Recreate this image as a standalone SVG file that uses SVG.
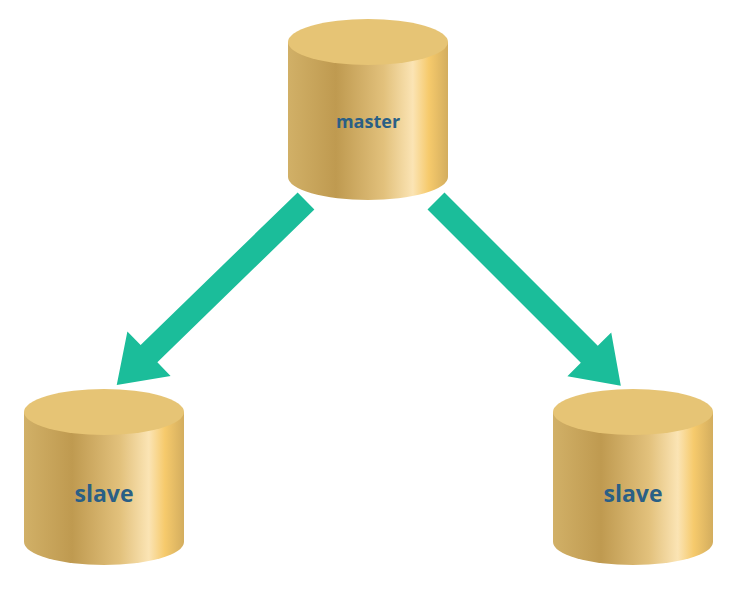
<svg xmlns="http://www.w3.org/2000/svg" width="744" height="596" viewBox="0 0 744 596">
<defs>
<linearGradient id="body" x1="0" y1="0" x2="1" y2="0">
<stop offset="0" stop-color="#d1b067"/>
<stop offset="0.3" stop-color="#bf9a50"/>
<stop offset="0.6" stop-color="#e2c17c"/>
<stop offset="0.78" stop-color="#fbe4b4"/>
<stop offset="0.88" stop-color="#f6ca6c"/>
<stop offset="1" stop-color="#d3ad5e"/>
</linearGradient>
<polygon id="arr" points="0,-12 219,-12 219,-31 264,0 219,31 219,12 0,12" fill="#1bbd9a"/>
</defs>
<style>.t{font-family:"Open Sans","Liberation Sans",sans-serif;font-weight:bold;fill:#2a5f85;text-anchor:middle}</style>
<g id="connectors">
<use href="#arr" transform="translate(306,201) rotate(135.8)"/>
<use href="#arr" transform="translate(436,201) rotate(45) scale(0.99,1)"/>
</g>
<g id="master"><path d="M288,42 V177 A80,23 0 0 0 448,177 V42 Z" fill="url(#body)"/><ellipse cx="368" cy="42" rx="80" ry="23" fill="#e6c475"/><text class="t" x="368" y="128" font-size="18">master</text></g>
<g id="slave-left"><path d="M24,412 V542 A80,23 0 0 0 184,542 V412 Z" fill="url(#body)"/><ellipse cx="104" cy="412" rx="80" ry="23" fill="#e6c475"/><text class="t" x="104" y="502" font-size="23">slave</text></g>
<g id="slave-right"><path d="M553,412 V542 A80,23 0 0 0 713,542 V412 Z" fill="url(#body)"/><ellipse cx="633" cy="412" rx="80" ry="23" fill="#e6c475"/><text class="t" x="633" y="502" font-size="23">slave</text></g>
</svg>
